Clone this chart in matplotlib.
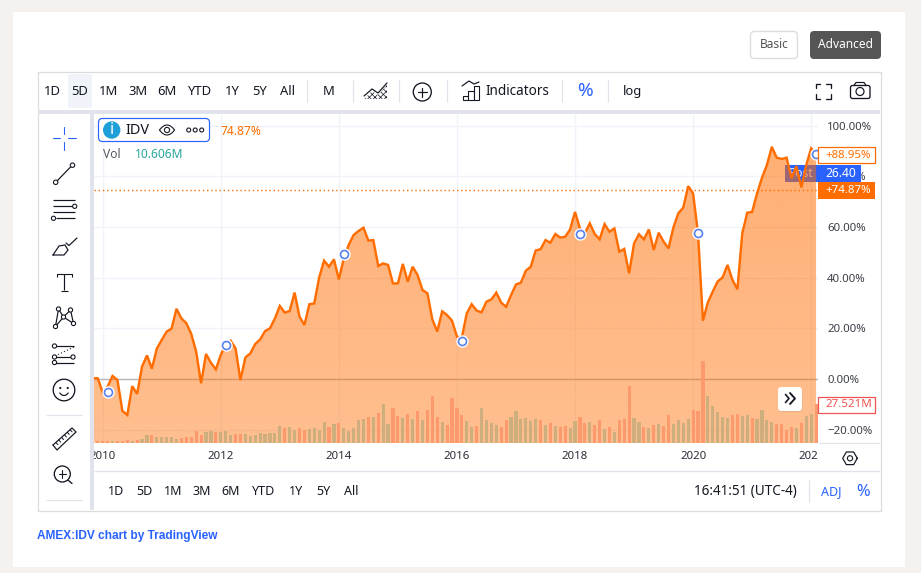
import numpy as np
import matplotlib
matplotlib.use("Agg")
import matplotlib.pyplot as plt
from matplotlib.patches import Rectangle, FancyBboxPatch, Circle, Polygon
from matplotlib.transforms import Bbox

plt.rcParams['font.family'] = ['Noto Sans', 'DejaVu Sans']
plt.rcParams['hatch.linewidth'] = 0.5

# ---- data: months counted from Jan 2010 --------------------------------
first_month = -2
pct = [0.3, 0.3,
       -5.4, -3.0, 1.2, -0.4, -12.6, -14.2, -2.8, -5.9, 4.9, 9.3, 4.1, 12.0,
       15.4, 18.7, 19.9, 27.7, 23.9, 22.0, 17.8, 10.8, -1.7, 9.9, 6.4, 3.8,
       9.5, 13.7, 15.1, 12.1, -0.4, 8.5, 10.1, 13.8, 15.6, 18.9, 20.0, 23.9,
       28.8, 26.2, 26.8, 34.1, 24.6, 21.3, 29.5, 29.8, 40.1, 46.7, 44.3, 47.2,
       39.3, 47.6, 52.9, 56.8, 58.4, 59.7, 54.6, 54.8, 44.6, 45.6, 45.0, 37.7,
       37.7, 45.4, 38.4, 44.3, 41.0, 35.1, 33.8, 23.5, 18.7, 26.7, 25.2, 23.0,
       16.7, 16.4, 25.9, 29.5, 27.0, 26.3, 30.5, 31.4, 34.1, 30.1, 28.5, 33.1,
       37.3, 38.0, 42.7, 44.3, 50.7, 51.2, 54.8, 53.8, 57.2, 55.8, 56.1, 59.0,
       65.9, 59.4, 57.5, 61.4, 57.2, 55.1, 61.1, 58.1, 59.4, 50.2, 51.3, 41.7,
       53.5, 57.1, 55.1, 59.0, 50.9, 57.7, 54.2, 51.5, 59.8, 65.4, 67.6, 76.1,
       73.2, 57.5, 23.0, 30.2, 34.5, 38.5, 40.1, 45.0, 39.1, 35.4, 57.5, 65.6,
       65.9, 73.2, 79.4, 84.4, 91.6, 87.3, 86.8, 87.3, 79.2, 84.0, 75.6, 84.4,
       91.0, 88.95]

vol_first_month = -1
volume = [1.4, 1.4, 1.4, 1.4, 1.4, 1.4, 2.1, 1.4, 2.1, 2.8,
          5.6, 5.6, 4.2, 4.2, 4.2, 4.2, 2.8, 3.5, 4.2, 4.2, 8.5, 5.6,
          7.8, 8.5, 7.8, 7.8, 8.5, 5.6, 6.4, 6.4, 6.4, 4.9, 5.6, 7.1,
          6.4, 7.1, 7.1, 12.0, 10.6, 11.3, 9.2, 10.6, 9.2, 9.9, 10.6, 9.2,
          14.8, 11.3, 13.4, 14.1, 10.6, 8.5, 10.6, 16.2, 16.9, 18.3, 18.3, 21.2,
          27.5, 13.4, 24.7, 19.1, 17.6, 20.5, 16.9, 22.6, 16.2, 23.3, 33.2, 18.3,
          14.8, 12.7, 31.8, 24.7, 19.8, 15.5, 11.3, 12.0, 24.7, 16.2, 14.1, 12.7,
          11.3, 16.2, 18.3, 22.6, 16.9, 17.6, 15.5, 16.9, 16.2, 12.7, 14.1, 12.0,
          11.3, 12.0, 10.6, 15.5, 18.3, 14.1, 14.8, 12.7, 16.2, 9.9, 11.3, 7.8,
          16.2, 16.9, 40.2, 17.6, 14.8, 11.3, 10.6, 12.7, 13.4, 12.0, 19.8, 13.4,
          16.2, 14.1, 16.9, 23.3, 22.6, 57.9, 33.2, 26.1, 21.9, 18.3, 17.6, 19.8,
          20.5, 19.1, 19.8, 17.6, 16.9, 23.3, 16.2, 14.8, 13.4, 13.4, 9.2, 11.3,
          10.6, 14.1, 19.1, 20.5, 27.5]
vol_up = [0, 0, 0, 1, 0, 0, 0, 1, 0, 1,
          1, 0, 1, 1, 1, 1, 1, 0, 0, 0, 0, 0,
          1, 1, 0, 1, 1, 1, 0, 0, 1, 1, 1, 1,
          1, 1, 1, 1, 0, 1, 1, 0, 0, 1, 1, 1,
          1, 0, 1, 0, 1, 1, 1, 1, 1, 0, 1, 0,
          1, 1, 0, 0, 1, 0, 1, 0, 1, 0, 0, 0,
          1, 0, 0, 0, 0, 1, 1, 0, 1, 1, 1, 1,
          0, 0, 1, 1, 1, 1, 1, 1, 0, 1, 0, 1,
          0, 0, 1, 1, 0, 0, 1, 0, 0, 1, 0, 1,
          0, 0, 0, 1, 1, 0, 1, 0, 1, 0, 0, 1,
          1, 1, 1, 0, 0, 0, 1, 1, 1, 1, 1, 0,
          0, 1, 1, 0, 1, 1, 1, 1, 0, 0, 0, 0,
          1, 0, 1, 1, 0]

dividend_months = [1, 25, 49, 73, 97, 121, 145]
dividend_pct = [-5.2, 13.5, 49.2, 14.9, 57.2, 57.7, 88.6]

year_months = [0, 24, 48, 72, 96, 120, 144]
year_labels = ['2010', '2012', '2014', '2016', '2018', '2020', '2022']
pct_ticks = [100, 80, 60, 40, 20, 0, -20]
pct_tick_labels = ['100.00%', '80.00%', '60.00%', '40.00%', '20.00%', '0.00%', '\u221220.00%']
prev_close_level = 74.4

# ---- layout ------------------------------------------------------------
W, H = 921, 573
fig = plt.figure(figsize=(W / 100, H / 100), dpi=100, facecolor='#f5f1ef')
L, R, T, B = 94, 818, 112, 443
rect = [L / W, 1 - B / H, (R - L) / W, (B - T) / H]

ORANGE = '#ff6d00'
BLUE = '#2962ff'
INK = '#131722'
SEP = '#e0e3eb'
GRID = '#f0f3fa'
FS = 0.72


def px(v):
    return v * FS


# background layer
bg = fig.add_axes([0, 0, 1, 1], zorder=0)
bg.set_xlim(0, W); bg.set_ylim(H, 0); bg.axis('off')
bg.add_patch(Rectangle((13, 12), 892, 555, fc='white', ec='none'))
bg.add_patch(Rectangle((37.5, 71.5), 843, 439, fc='white', ec='#dcdcdc', lw=0.9))

# main chart
ax = fig.add_axes(rect, zorder=2)
ax.set_facecolor('white')
xs = first_month + np.arange(len(pct))
pcts = np.array(pct)
month_px = 4.92
grid_origin = 102.7
ax.set_xlim((L - grid_origin) / month_px, (R - grid_origin) / month_px)
ax.set_ylim((379 - B) / 2.535, (379 - T) / 2.535)
ax.set_xticks(year_months)
ax.set_xticklabels(year_labels)
ax.set_yticks(pct_ticks)
ax.set_yticklabels(pct_tick_labels)
ax.yaxis.tick_right()
ax.tick_params(axis='both', length=0, labelsize=px(11.5), colors=INK)
ax.tick_params(axis='y', pad=6.5)
ax.tick_params(axis='x', pad=6)
for lab in ax.get_yticklabels():
    lab.set_color('#3c3f48')
for s in ax.spines.values():
    s.set_visible(False)
ax.grid(True, color=GRID, lw=1, zorder=0)
ax.set_axisbelow(True)
clip = Bbox([[L, H - 470], [R, H - 443]])
for lab in ax.get_xticklabels():
    lab.set_clip_on(True)
    lab.set_clip_box(clip)
    lab.set_color('#2a2e39')

ax.axhline(0, color='#b8b8b8', lw=1, zorder=1)

# "Post" tag lies beneath the series fill
fx = lambda p: (p - grid_origin) / month_px
fy = lambda p: (379 - p) / 2.535
ax.add_patch(Rectangle((fx(785), fy(182)), fx(818) - fx(785), fy(165) - fy(182),
                       fc=BLUE, ec='none', zorder=1.5))
ax.text(fx(801.5), fy(173.5), 'Post', color='white', fontsize=px(12), ha='center',
        va='center', zorder=1.6, alpha=.9, fontweight='bold')

# gradient area
grad = np.zeros((256, 1, 4))
grad[..., 0] = 1.0
grad[..., 1] = 109 / 255
grad[..., 2] = 0
grad[:, 0, 3] = np.linspace(0.56, 0.44, 256)
ylo, yhi = ax.get_ylim()
xlo, xhi = ax.get_xlim()
im = ax.imshow(grad, extent=[xlo, xhi, ylo, yhi], origin='upper', aspect='auto',
               zorder=3, interpolation='bilinear')
poly = Polygon(np.vstack([[xs[0], ylo], np.column_stack([xs, pcts]), [xs[-1], ylo]]),
               transform=ax.transData, fc='none', ec='none')
ax.add_patch(poly)
im.set_clip_path(poly)
ax.set_xlim(xlo, xhi); ax.set_ylim(ylo, yhi)
ax.axhline(prev_close_level, color=ORANGE, lw=1, ls=(0, (1, 2)), zorder=4)
ax.plot(xs, pcts, color=ORANGE, lw=2.4 * FS, zorder=5, solid_joinstyle='miter')

# volume
vax = fig.add_axes(rect, zorder=3)
vax.patch.set_alpha(0)
vax.axis('off')
vm = vol_first_month + np.arange(len(volume))
vax.set_xlim(xlo, xhi)
vax.set_ylim(0, (B - T) * 27.521 / 39)
up = np.array(vol_up, dtype=bool)
v = np.array(volume)
vax.bar(vm[up], v[up], width=0.65, color='#cfae7e', lw=0)
vax.bar(vm[~up], v[~up], width=0.65, color='#fc9a6e', lw=0)

# dividends
dax = fig.add_axes(rect, zorder=4)
dax.patch.set_alpha(0)
dax.axis('off')
dax.set_xlim(xlo, xhi); dax.set_ylim(ylo, yhi)
dax.plot(dividend_months, dividend_pct, ls='none', marker='o', ms=11 * FS, mfc='white',
         mec='white', clip_on=False)
dax.plot(dividend_months, dividend_pct, ls='none', marker='o', ms=8 * FS, mfc='white',
         mec='#5b83ee', mew=1.7 * FS, clip_on=False)

# ---- UI overlay -------------------------------------------------------
ui = fig.add_axes([0, 0, 1, 1], zorder=5)
ui.patch.set_alpha(0)
ui.set_xlim(0, W); ui.set_ylim(H, 0); ui.axis('off')


def txt(x, y, s, size=12.5, color=INK, ha='center', **kw):
    kw.setdefault('zorder', 9)
    return ui.text(x, y + 1, s, fontsize=px(size), color=color, ha=ha, va='center', **kw)


def seg(pts, color=INK, lw=1.0, **kw):
    pts = np.array(pts)
    kw.setdefault('zorder', 8)
    ui.plot(pts[:, 0], pts[:, 1], color=color, lw=lw * FS * 1.1,
            solid_capstyle=kw.pop('cap', 'round'), **kw)


def ring(x, y, r, fc='white', ec=INK, lw=1.0, z=8.5):
    ui.add_patch(Circle((x, y), r, fc=fc, ec=ec, lw=lw * FS * 1.1, zorder=z))


def rbox(x0, y0, x1, y1, r=3, **kw):
    ui.add_patch(FancyBboxPatch((x0 + r, y0 + r), x1 - x0 - 2 * r, y1 - y0 - 2 * r,
                                boxstyle=f'round,pad={r},rounding_size={r}', **kw))


# bands and separators
ui.add_patch(Rectangle((38, 110), 842, 4, fc=SEP, ec='none'))
ui.add_patch(Rectangle((90, 114), 4, 396, fc=SEP, ec='none'))
seg([(94, 471), (880, 471)], SEP, 1.2, cap='butt')
seg([(818, 443), (880, 443)], SEP, 1.0, cap='butt')
for x in (306.5, 352.7, 399, 446.7, 561.5, 608):
    seg([(x, 80), (x, 102)], SEP, 1.1, cap='butt')
seg([(809.3, 480), (809.3, 502)], SEP, 1.1, cap='butt')

# buttons
rbox(750.5, 31.5, 797.5, 58.5, r=4, fc='white', ec='#dcdcdc', lw=1)
txt(774, 44, 'Basic', 12, '#555555')
rbox(810, 31, 881, 59, r=4, fc='#555555', ec='none')
txt(845.5, 44, 'Advanced', 12, 'white')

# top toolbar
rbox(68, 74, 92, 108, r=3, fc='#f0f3fa', ec='none')
for x, s in [(52, '1D'), (80, '5D'), (109, '1M'), (138, '3M'), (167, '6M'), (200, 'YTD'),
             (232.5, '1Y'), (259.5, '5Y'), (287, 'All'), (329, 'M')]:
    txt(x, 90.5, s, 13)
# area icon
seg([(364, 96), (372, 89), (378, 93), (387, 83)], INK, 1.1)
ui.add_patch(Polygon([(364, 99), (372, 91), (378, 95), (387, 85), (387, 99)], fc='white',
                     ec=INK, hatch='xxxxxx', lw=0, zorder=3))
# plus
ring(422.3, 92, 9, lw=1.2)
seg([(417.5, 92), (427, 92)], INK, 1.1, zorder=9); seg([(422.3, 87.5), (422.3, 96.5)], INK, 1.1, zorder=9)
# indicators
seg([(462, 86), (469, 81), (474, 84), (479, 82)], INK, 1.1)
for x0_, x1_, y_ in [(462.5, 468, 96), (468, 474, 91), (474, 479, 86)]:
    ui.add_patch(Rectangle((x0_, y_), x1_ - x0_, 99.5 - y_, fc='white', ec=INK, lw=1 * FS * 1.1))
txt(485.5, 90.5, 'Indicators', 13.5, ha='left')
txt(585, 90.5, '%', 19, BLUE)
txt(632, 90.5, 'log', 13)
# fullscreen
for sx, sy in [(-1, -1), (1, -1), (-1, 1), (1, 1)]:
    cx, cy = 823 + sx * 7.5, 91 + sy * 7.5
    seg([(cx, cy - sy * 4.5), (cx, cy), (cx - sx * 4.5, cy)], INK, 1.2)
# camera
rbox(850.5, 85.5, 870, 98.5, r=2, fc='white', ec=INK, lw=0.95)
seg([(854, 85.5), (856, 82.5), (864, 82.5), (866, 85.5)], INK, 1.1)
ring(860, 91.5, 4, lw=1.1)

# legend
rbox(98.5, 118.5, 209.5, 141.5, r=4, fc='white', ec=BLUE, lw=0.85)
ring(111.7, 130, 8.7, fc='#1e9fd8', ec='none', lw=0)
txt(111.7, 129, 'i', 16, 'white', fontweight='bold')
txt(125.5, 129.5, 'IDV', 14.5, ha='left')
eye = np.linspace(-1, 1, 30)
seg(np.column_stack([167 + 7.5 * eye, 130 - 5 * (1 - eye ** 2)]), INK, 1.0)
seg(np.column_stack([167 + 7.5 * eye, 130 + 5 * (1 - eye ** 2)]), INK, 1.0)
ring(167, 130, 2.6, lw=1)
for x in (188.7, 195.2, 201.7):
    ring(x, 130, 2, lw=1)
txt(220, 130.5, '74.87%', 12, ORANGE, ha='left')
txt(103, 153.5, 'Vol', 12, '#555a64', ha='left')
txt(135, 153.5, '10.606M', 12, '#26a69a', ha='left')

# left tools
C = 64.3
seg([(C, 127), (C, 134)], BLUE, 1.0); seg([(C, 142), (C, 149.5)], BLUE, 1.0)
seg([(53, 138), (60, 138)], BLUE, 1.0); seg([(68, 138), (76, 138)], BLUE, 1.0)
seg([(57, 181), (71, 166.5)], INK, 1.1)
ring(55.7, 182.3, 2.2); ring(72.5, 165.2, 2.2)
for y, a, b in [(200.3, 53, 75), (206.3, 53, 72), (212.3, 53, 75), (218.3, 56, 75)]:
    seg([(a, y), (b, y)], INK, 1.1, cap='butt')
ring(74.7, 206.3, 2.1); ring(53.5, 218.3, 2.1)
# brush
seg([(53, 255), (59, 246), (65, 245), (68, 250), (64, 255), (53, 255)], INK, 1.1)
seg([(66, 243), (69, 245.5), (77, 238)], INK, 1.1)
# text tool
seg([(56.5, 277), (56.5, 274), (72, 274), (72, 277)], INK, 1.0, cap='butt')
seg([(64.3, 274), (64.3, 290)], INK, 1.1, cap='butt')
seg([(61, 290.5), (67.5, 290.5)], INK, 1.0, cap='butt')
# nodes
nodes = [(55.5, 326.5), (58.5, 309), (63.5, 317), (70.5, 310), (73.5, 323.5)]
seg([nodes[0], nodes[1], nodes[2], nodes[3], nodes[4], nodes[2], nodes[0]], INK, 1.1)
for n in nodes:
    ring(n[0], n[1], 2.1)
# forecast
for y, a, b in [(346, 55, 74), (357, 55, 73), (362.5, 55, 74)]:
    seg([(a, y), (b, y)], INK, 1.1, cap='butt')
seg([(55, 356), (74, 347)], INK, 1.0, ls=(0, (1, 2)))
ring(54.5, 346, 2.1); ring(54.5, 357, 2.1); ring(73, 357, 2.1); ring(54.5, 362.5, 2.1)
# smile
ring(64, 390, 10.8, lw=1.2)
ui.add_patch(Circle((60.3, 388), 1.1, fc=INK, ec='none', zorder=9))
ui.add_patch(Circle((67.7, 388), 1.1, fc=INK, ec='none', zorder=9))
sm = np.linspace(-1, 1, 20)
seg(np.column_stack([64 + 4.2 * sm, 393 + 2.5 * (1 - sm ** 2)]), INK, 1.1, zorder=9)
seg([(46, 414.5), (82, 414.5)], SEP, 1.1, cap='butt')
# ruler
seg([(53, 445), (72, 428), (76, 432), (57, 450), (53, 445)], INK, 1.1)
for t in (0.15, 0.3, 0.45, 0.6, 0.75, 0.9):
    ax_, ay_ = 53 + 19 * t, 445 - 17 * t
    seg([(ax_, ay_), (ax_ + 2, ay_ + 2.2)], INK, 0.9)
# magnifier
ring(62.3, 474, 8, lw=1.2)
seg([(58.5, 474), (66, 474)], INK, 1.0, zorder=9); seg([(62.3, 470.3), (62.3, 477.7)], INK, 1.0, zorder=9)
seg([(68, 480), (72, 483.5)], INK, 1.2)
seg([(46, 499.5), (82, 499.5)], SEP, 1.1, cap='butt')

# price tags
ui.add_patch(Rectangle((818, 147), 56.5, 15.5, fc='white', ec=ORANGE, lw=0.9))
txt(848, 154, '+88.95%', 11.5, ORANGE)
ui.add_patch(Rectangle((818, 165), 43, 17, fc=BLUE, ec='none'))
txt(841, 172.5, '26.40', 12, 'white')
ui.add_patch(Rectangle((818, 182.3), 57, 16.4, fc=ORANGE, ec='none'))
txt(848, 189.5, '+74.87%', 11.5, 'white')
ui.add_patch(Rectangle((818, 396.5), 57, 16, fc='white', ec='#ef5350', lw=0.9))
txt(848.7, 403.5, '27.521M', 11.5, '#ef5350')

# scroll button
rbox(778.5, 388, 802.5, 412, r=3, fc='#dba67f', ec='none', alpha=0.6)
rbox(778, 387, 802, 411, r=3, fc='white', ec='none')
seg([(785.5, 394.5), (789, 398.5), (785.5, 402.5)], INK, 1.5)
seg([(790, 393), (795, 398.5), (790, 404)], INK, 1.7)

# gear
ang = np.deg2rad(np.arange(0, 361, 60))
ui.plot(850 + 7.3 * np.cos(ang), 458.3 + 7.3 * np.sin(ang), color=INK, lw=1.1 * FS * 1.1,
        solid_joinstyle='round')
ring(850, 458.3, 2.6, lw=1)

# bottom toolbar
for x, s in [(116, '1D'), (144, '5D'), (173, '1M'), (202, '3M'), (231, '6M'), (264, 'YTD'),
             (296, '1Y'), (323, '5Y'), (351, 'All')]:
    txt(x, 490.3, s, 12.5)
txt(745.8, 490.8, '16:41:51 (UTC-4)', 13.5)
txt(831.7, 490.8, 'ADJ', 12.5, BLUE)
txt(863, 490.8, '%', 16.5, BLUE)

# footer
ui.text(37, 535.5, 'AMEX:IDV chart by TradingView', fontsize=px(11.95), color=BLUE,
        fontfamily='Liberation Sans', fontweight='bold', ha='left', va='center')

fig.savefig('out.png', dpi=100, facecolor=fig.get_facecolor())
